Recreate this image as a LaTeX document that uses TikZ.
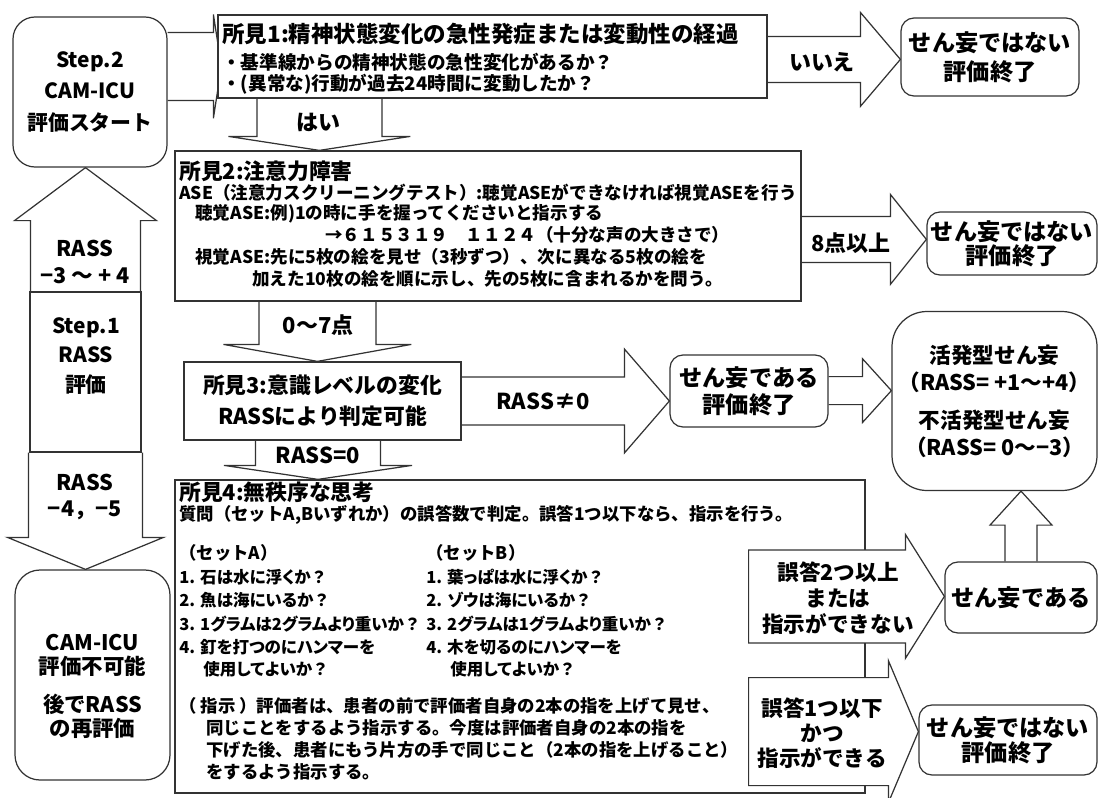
\documentclass[tikz,border=0pt]{standalone}
\usepackage{fontspec}
\setmainfont{Noto Sans CJK JP}
\newfontfamily\pj{Noto Sans CJK JP}[RawFeature=+palt]
\newfontfamily\nj{Noto Sans CJK JP}
\newcommand\fq{{\nj\bfseries ？}}
\usetikzlibrary{calc}
\pgfdeclarelayer{bg}
\pgfsetlayers{bg,main}
\newdimen\px \px=0.02cm
\newcommand\fsz[2]{\fontsize{#1}{#2}\selectfont\bfseries}
% right block arrow: tail, tip, shaft half, head half, head length
\newcommand\arrR[5]{\draw[blk] let \p1=#1, \p2=#2 in (\x1,{\y1+#3*\px}) -- ({\x2-#5*\px},{\y1+#3*\px}) -- ({\x2-#5*\px},{\y1+#4*\px}) -- (\x2,\y1) -- ({\x2-#5*\px},{\y1-#4*\px}) -- ({\x2-#5*\px},{\y1-#3*\px}) -- (\x1,{\y1-#3*\px});}
\newcommand\arrRc[5]{\draw[blk] let \p1=#1, \p2=#2 in (\x1,{\y1+#3*\px}) -- ({\x2-#5*\px},{\y1+#3*\px}) -- ({\x2-#5*\px},{\y1+#4*\px}) -- (\x2,\y1) -- ({\x2-#5*\px},{\y1-#4*\px}) -- ({\x2-#5*\px},{\y1-#3*\px}) -- (\x1,{\y1-#3*\px}) -- cycle;}
\newcommand\arrD[5]{\draw[blk] let \p1=#1, \p2=#2 in ({\x1+#3*\px},\y1) -- ({\x1+#3*\px},{\y2+#5*\px}) -- ({\x1+#4*\px},{\y2+#5*\px}) -- (\x1,\y2) -- ({\x1-#4*\px},{\y2+#5*\px}) -- ({\x1-#3*\px},{\y2+#5*\px}) -- ({\x1-#3*\px},\y1);}
\newcommand\arrU[5]{\draw[blk] let \p1=#1, \p2=#2 in ({\x1+#3*\px},\y1) -- ({\x1+#3*\px},{\y2-#5*\px}) -- ({\x1+#4*\px},{\y2-#5*\px}) -- (\x1,\y2) -- ({\x1-#4*\px},{\y2-#5*\px}) -- ({\x1-#3*\px},{\y2-#5*\px}) -- ({\x1-#3*\px},\y1);}
\begin{document}
\begin{tikzpicture}[x=0.02cm,y=-0.02cm,
  ln/.style={draw=black!80, line width=0.7pt},
  blk/.style={ln, fill=white, line join=miter},
  box/.style={ln, fill=white, inner sep=0pt, align=center},
  rbox/.style={box, rounded corners=#1},
  wh/.style 2 args={minimum width=#1*\px, minimum height=#2*\px},
  txt/.style={inner sep=0pt, anchor=west, align=left},
  col/.style={txt, font=\pj\fsz{9.4}{12}},
  b4/.style={txt, font=\fsz{9.9}{12}},
  b2/.style={txt, font=\fsz{10}{12}},
  lbl/.style={inner sep=0pt, align=center, font=\fsz{12.5}{15}},
  big/.style={font=\fsz{13.2}{16}},
]
\useasboundingbox (0,0) rectangle (1099,798);

% ---- boxes ----
\node[rbox=0.44cm, wh={154}{150}, font=\fsz{11.9}{18}] (S2) at (90,92) {Step.2\\CAM-ICU\\評価スタート};
\node[box, wh={111}{160}] (S1) at (85.5,372) {};
\node[inner sep=0pt, align=center, font=\fsz{11.9}{17}] (S1t) at (86,356) {Step.1\\RASS\\評価};
\node[rbox=0.5cm, wh={155}{210}] (CAM) at (92.5,675) {};
\node[inner sep=0pt, align=center, font=\fsz{12.2}{13.6}] (CAMa) at (92.5,655) {CAM-ICU\\評価不可能};
\node[inner sep=0pt, align=center, font=\fsz{12.2}{13.6}] (CAMb) at (92.5,716) {後でRASS\\の再評価};

\node[box, wh={549}{83}] (B1) at (492.5,56.5) {};
\node[txt, font=\fsz{12.8}{15}] (B1t) at (222,34) {所見1:精神状態変化の急性発症または変動性の経過};
\node[txt, font=\fsz{10.6}{12.5}] (B1a) at (222,62) {・基準線からの精神状態の急性変化があるか？};
\node[txt, font=\fsz{10.6}{12.5}] (B1b) at (222,84) {・(異常な)行動が過去24時間に変動したか？};

\node[rbox=0.26cm, wh={178}{78}, font=\fsz{13.2}{16.4}] (NS1) at (990,57) {せん妄ではない\\評価終了};

\node[box, wh={626}{150}] (B2) at (488,226) {};
\node[txt, font=\fsz{12.4}{15}] (B2t) at (179,171) {所見2:注意力障害};
\node[b2] (B2a) at (179,193) {ASE（注意力スクリーニングテスト）:聴覚ASEができなければ視覚ASEを行う};
\node[b2] (B2b) at (195,214) {聴覚ASE:例)1の時に手を握ってくださいと指示する};
\node[b2] (B2c) at (325,235) {→６１５３１９　１１２４（十分な声の大きさで）};
\node[b2] (B2d) at (195,257) {視覚ASE:先に5枚の絵を見せ（3秒ずつ）、次に異なる5枚の絵を};
\node[b2] (B2e) at (252,279) {加えた10枚の絵を順に示し、先の5枚に含まれるかを問う。};

\node[rbox=0.26cm, wh={170}{63}, font=\fsz{13.2}{13.8}] (NS2) at (1012,243.5) {せん妄ではない\\評価終了};

\node[box, wh={277}{78}] (B3) at (322.5,401) {};
\node[inner sep=0pt, align=center, font=\fsz{12.4}{17.5}] (B3t) at (322.5,401) {所見3:意識レベルの変化\\RASSにより判定可能};

\node[rbox=0.26cm, wh={158}{72}, font=\fsz{13.2}{15.3}] (NSis) at (749,391) {せん妄である\\評価終了};

\node[rbox=0.7cm, wh={205}{179}, font=\fsz{12.3}{15.5}] (KAT) at (994.5,401) {活発型せん妄\\（RASS= +1～+4）\\[6pt]不活発型せん妄\\（RASS= 0～−3）};

\node[box, wh={690}{313}] (B4) at (520,636.5) {};
\node[txt, font=\fsz{12.4}{15}] (B4t) at (179,492) {所見4:無秩序な思考};
\node[b4] (B4a) at (179,515) {質問（セットA,Bいずれか）の誤答数で判定。誤答1つ以下なら、指示を行う。};
\node[b4] (B4b) at (179,553) {（セットA）};
\node[col] (B4c) at (179,577) {1. 石は水に浮くか\fq};
\node[col] (B4d) at (179,600) {2. 魚は海にいるか\fq};
\node[col] (B4e) at (179,624) {3. 1グラムは2グラムより重いか\fq};
\node[col] (B4f) at (179,647) {4. 釘を打つのにハンマーを};
\node[col] (B4g) at (203,669) {使用してよいか\fq};
\node[b4] (B4h) at (426,553) {（セットB）};
\node[col] (B4i) at (426,577) {1. 葉っぱは水に浮くか\fq};
\node[col] (B4j) at (426,600) {2. ゾウは海にいるか\fq};
\node[col] (B4k) at (426,624) {3. 2グラムは1グラムより重いか\fq};
\node[col] (B4l) at (426,647) {4. 木を切るのにハンマーを};
\node[col] (B4m) at (450,669) {使用してよいか\fq};
\node[b4] (B4n) at (179,706) {（ 指示 ）評価者は、患者の前で評価者自身の2本の指を上げて見せ、};
\node[b4] (B4o) at (206,728) {同じことをするよう指示する。今度は評価者自身の2本の指を};
\node[b4] (B4p) at (206,750) {下げた後、患者にもう片方の手で同じこと（2本の指を上げること）};
\node[b4] (B4q) at (206,772) {をするよう指示する。};

\node[rbox=0.26cm, wh={152}{71}, big] (SIS) at (1021,597.5) {せん妄である};
\node[rbox=0.26cm, wh={178}{70}, font=\fsz{13.2}{14.2}] (NS3) at (1008,740) {せん妄ではない\\評価終了};

% ---- block arrows (behind boxes) ----
\begin{pgfonlayer}{bg}
\arrR{($(S2.north east)+(0,50)$)}{($(B1.west)+(4,0)$)}{34}{52}{8}
\arrR{($(B1.north east)+(0,45)$)}{(NS1.west)}{23}{47}{40}
\arrD{($(B1.south west)+(102,0)$)}{(B2.north)}{62.5}{91}{14}
\arrR{($(B2.north east)+(0,89)$)}{(NS2.west)}{23}{45}{36}
\arrD{($(B2.south west)+(143,0)$)}{(B3.north)}{58.5}{94}{17}
\arrR{(B3.east)}{(NSis.west)}{24}{52}{45}
\arrR{($(NSis.south east)+(0,-37)$)}{(KAT.west)}{14}{32}{29}
\arrD{($(B3.south)+(-4.5,0)$)}{(B4.north)}{62.5}{94}{14}
\arrU{(SIS.north)}{(KAT.south)}{16}{31}{34}
\arrU{(S1.north)}{(S2.south)}{55}{71}{53}
\arrD{(S1.south)}{(CAM.north)}{57}{78}{32}
\end{pgfonlayer}
% arrows laid over box 4
\arrRc{($(B4.north east)+(-117,117)$)}{(SIS.west)}{46.5}{62}{39}
\arrRc{($(B4.south east)+(-117,-62)$)}{(NS3.west)}{54}{71}{30}

% ---- arrow labels ----
\node[lbl] (lIie) at (822,62) {いいえ};
\node[lbl] (lHai) at (318,122) {はい};
\node[lbl] (l8) at (851,243) {8点以上};
\node[lbl] (l07) at (318,325) {0～7点};
\node[lbl] (lNe) at (543,401) {RASS≠0};
\node[lbl] (lEq) at (318,455) {RASS=0};
\node[lbl, font=\fsz{12.3}{14.8}] (lG2) at (838,598) {誤答2つ以上\\または\\指示ができない};
\node[lbl, font=\fsz{12.3}{14.4}] (lG1) at (822,733) {誤答1つ以下\\かつ\\指示ができる};
\node[lbl, font=\fsz{12.3}{15.3}] (lUp) at (85,262) {RASS\\−3 ～ + 4};
\node[lbl, font=\fsz{12.3}{15.3}] (lDn) at (85,497) {RASS\\−4，−5};
\end{tikzpicture}
\end{document}
